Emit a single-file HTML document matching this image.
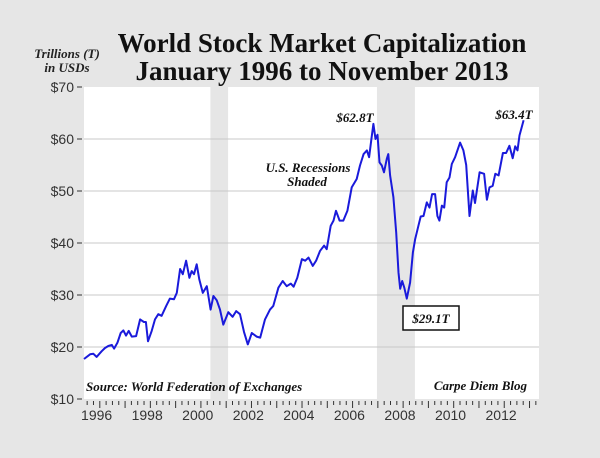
<!DOCTYPE html>
<html><head><meta charset="utf-8"><style>
body{margin:0;background:#e6e6e6;}
svg{display:block;}
.serif{font-family:"Liberation Serif",serif;}
.sans{font-family:"Liberation Sans",sans-serif;}
</style></head><body>
<svg id="chart" width="600" height="458" viewBox="0 0 600 458">
<rect x="0" y="0" width="600" height="458" fill="#e6e6e6"/>
<text x="322" y="52" text-anchor="middle" class="serif" font-weight="bold" font-size="27" fill="#111">World Stock Market Capitalization</text>
<text x="322" y="80" text-anchor="middle" class="serif" font-weight="bold" font-size="27" fill="#111">January 1996 to November 2013</text>
<text x="67" y="58" text-anchor="middle" class="serif" font-weight="bold" font-style="italic" font-size="13" fill="#222">Trillions (T)</text>
<text x="67" y="72" text-anchor="middle" class="serif" font-weight="bold" font-style="italic" font-size="13" fill="#222">in USDs</text>
<g id="plot"></g>
</svg>
<script>
const recStart = [2001.0, 2007.59];
const recEnd = [2001.7, 2009.09];
const yTicks = [10, 20, 30, 40, 50, 60, 70];
const yTickLabels = ["$10", "$20", "$30", "$40", "$50", "$60", "$70"];
const xLabelYears = [1996, 1998, 2000, 2002, 2004, 2006, 2008, 2010, 2012];
const times = [1996.00,1996.24,1996.37,1996.50,1996.70,1996.83,1996.96,1997.10,1997.19,1997.32,1997.45,1997.56,1997.66,1997.77,1997.89,1998.06,1998.22,1998.37,1998.45,1998.53,1998.68,1998.81,1998.94,1999.07,1999.25,1999.40,1999.56,1999.67,1999.80,1999.91,2000.04,2000.17,2000.26,2000.35,2000.46,2000.56,2000.70,2000.86,2001.01,2001.12,2001.25,2001.38,2001.51,2001.71,2001.88,2002.02,2002.17,2002.33,2002.48,2002.64,2002.83,2002.97,2003.16,2003.36,2003.49,2003.69,2003.86,2004.02,2004.18,2004.29,2004.44,2004.62,2004.75,2004.88,2005.05,2005.18,2005.34,2005.50,2005.60,2005.76,2005.87,2005.97,2006.11,2006.26,2006.42,2006.59,2006.79,2006.92,2007.06,2007.19,2007.28,2007.36,2007.45,2007.53,2007.61,2007.69,2007.78,2007.87,2007.98,2008.04,2008.11,2008.24,2008.35,2008.44,2008.51,2008.59,2008.67,2008.77,2008.90,2009.01,2009.10,2009.23,2009.32,2009.43,2009.56,2009.67,2009.77,2009.89,2009.98,2010.06,2010.16,2010.25,2010.35,2010.46,2010.55,2010.68,2010.88,2011.01,2011.12,2011.25,2011.38,2011.47,2011.65,2011.83,2011.94,2012.04,2012.17,2012.27,2012.40,2012.57,2012.70,2012.83,2012.96,2013.06,2013.15,2013.23,2013.39];
const values = [17.7,18.6,18.7,18.1,19.2,19.8,20.2,20.4,19.7,20.8,22.7,23.2,22.2,23.1,22.0,22.1,25.3,24.8,24.8,21.1,23.1,25.3,26.3,26.0,27.9,29.3,29.2,30.4,35.0,34.0,36.6,33.3,34.6,34.0,35.9,33.0,30.4,31.7,27.2,29.8,29.0,27.2,24.3,26.7,25.8,26.9,26.3,22.9,20.5,22.7,22.0,21.8,25.3,27.2,27.9,31.4,32.7,31.7,32.2,31.6,33.3,36.9,36.6,37.2,35.6,36.6,38.5,39.5,38.8,43.3,44.3,46.2,44.3,44.3,46.2,50.7,52.3,54.9,57.1,57.8,56.5,59.7,62.9,60.0,60.8,55.5,54.9,53.6,56.2,57.1,53.0,48.8,42.0,34.3,31.2,32.7,31.4,29.3,32.4,38.2,40.7,43.3,45.1,45.2,47.8,46.8,49.4,49.4,45.2,44.3,47.2,46.8,51.7,52.6,55.2,56.5,59.3,57.8,55.0,45.2,50.1,47.7,53.6,53.3,48.3,50.7,51.0,53.3,53.0,57.3,57.3,58.7,56.3,58.6,57.8,60.7,63.6];

const L=84,R=539,T=87,B=399,X0=1996,X1=2014,Y0=10,Y1=70;
const xs=t=>L+(t-X0)*(R-L)/(X1-X0);
const ys=v=>B-(v-Y0)*(B-T)/(Y1-Y0);
const NS="http://www.w3.org/2000/svg";
const g=document.getElementById('plot');
function mk(tag,attrs,parent){const e=document.createElementNS(NS,tag);for(const k in attrs)e.setAttribute(k,attrs[k]);(parent||g).appendChild(e);return e;}

const pa=mk('rect',{x:L,y:T,width:R-L,height:B-T,fill:'#fff'});



for(let i=0;i<recStart.length;i++){
  const r=mk('rect',{x:xs(recStart[i]),y:T,width:xs(recEnd[i])-xs(recStart[i]),height:B-T,fill:'#e6e6e6'});
  
  
}
for(let i=0;i<yTicks.length;i++){
  const y=ys(yTicks[i]);
  if(yTicks[i]>Y0&&yTicks[i]<Y1){
    const gl=mk('line',{x1:L,x2:R,y1:y,y2:y,stroke:'#c8c8c8','stroke-width':1});
    
    
  }
  const tk=mk('line',{x1:L-7,x2:L-2,y1:y,y2:y,stroke:'#333','stroke-width':1});
  
  
  const tl=mk('text',{x:L-10,y:y+5,'text-anchor':'end','font-size':14,fill:'#333',class:'sans'});
  tl.textContent=yTickLabels[i];
  
  
}
for(let q=0;q<=4*(X1-X0)-1;q++){
  const t=X0+q/4+0.125;
  const x=xs(t);
  const major=(q%4===2);
  const tk=mk('line',{x1:x,x2:x,y1:B+2,y2:B+(major?9:6),stroke:'#333','stroke-width':1});
  
  
}
for(const yr of xLabelYears){
  const tl=mk('text',{x:xs(yr+0.5),y:B+21,'text-anchor':'middle','font-size':14,fill:'#333',class:'sans'});
  tl.textContent=String(yr);
  
  
}
let d='';
for(let i=0;i<times.length;i++){d+=(i?'L':'M')+xs(times[i]).toFixed(1)+','+ys(values[i]).toFixed(1);}
const ln=mk('path',{d:d,fill:'none',stroke:'#1a1adb','stroke-width':2,'stroke-linejoin':'round'});



function lbl(txt,x,y,name,size,anchor){
  const t=mk('text',{x:x,y:y,'text-anchor':anchor||'middle','font-size':size||13,'font-weight':'bold','font-style':'italic',fill:'#111',class:'serif'});
  t.textContent=txt;
  
  
  return t;
}
lbl('$62.8T',355,122,'peak-2007-label');
lbl('$63.4T',514,119,'peak-2013-label');
lbl('U.S. Recessions',308,172,'recession-note-line1');
lbl('Shaded',307,186,'recession-note-line2');
const bx=mk('rect',{x:403,y:306,width:56,height:24,fill:'#fff',stroke:'#111','stroke-width':1.5});


lbl('$29.1T',431,323,'trough-2009-label');
lbl('Source: World Federation of Exchanges',86,391,'source-note',13,'start');
lbl('Carpe Diem Blog',527,390,'blog-credit',13,'end');
</script>
</body></html>
